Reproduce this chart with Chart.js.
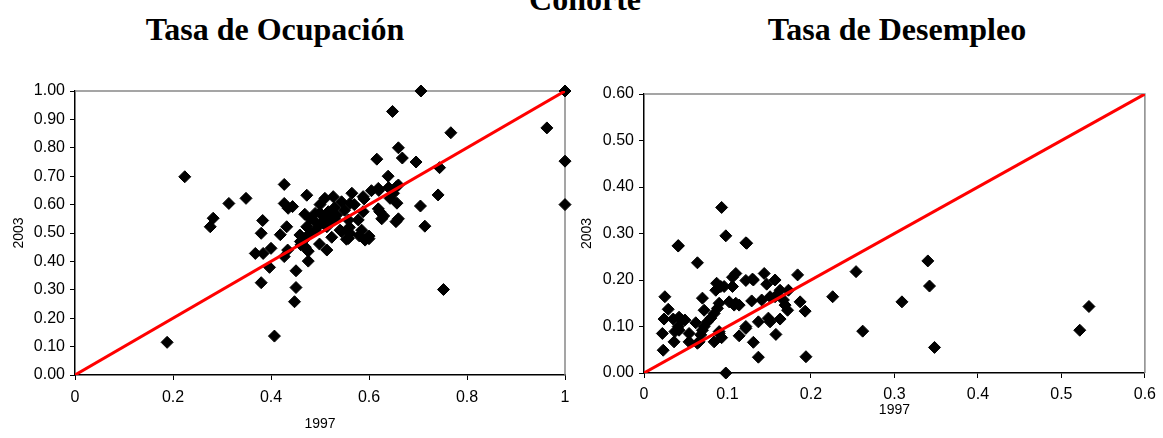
<!DOCTYPE html>
<html>
<head>
<meta charset="utf-8">
<script src="https://cdn.jsdelivr.net/npm/chart.js@4.4.1/dist/chart.umd.min.js"></script>
<style>
  body { margin: 0; background: #fff; width: 1163px; height: 438px; overflow: hidden; position: relative; }
  .titulo { position: absolute; font-family: "Liberation Serif", "Times New Roman", serif; font-weight: bold; font-size: 32px; white-space: nowrap; transform: translateX(-50%); line-height: 1; }
  canvas { position: absolute; top: 0; }
</style>
</head>
<body>
<div class="titulo" style="left:585px; top:-17px;">Cohorte</div>
<div class="titulo" style="left:275px; top:13px;">Tasa de Ocupación</div>
<div class="titulo" style="left:897px; top:13px;">Tasa de Desempleo</div>
<canvas id="chartjs-0" width="590" height="438" style="left:0; width:590px; height:438px;"></canvas>
<canvas id="chartjs-1" width="588" height="438" style="left:575px; width:588px; height:438px;"></canvas>
<script>
// Tasa de Ocupacion: 1997 (x) vs 2003 (y)
var ocup1997 = [0.188,0.224,0.276,0.282,0.314,0.349,0.368,0.384,0.380,0.397,0.400,0.380,0.383,0.407,0.419,0.427,0.434,0.432,0.427,0.427,
  0.435,0.444,0.448,0.451,0.451,0.459,0.461,0.469,0.473,0.473,0.476,0.476,0.490,0.493,0.499,0.500,0.510,0.514,0.514,0.517,
  0.524,0.524,0.527,0.534,0.541,0.544,0.544,0.554,0.558,0.558,0.561,0.561,0.565,0.578,0.585,0.588,0.588,0.592,0.600,0.605,
  0.619,0.619,0.616,0.622,0.626,0.639,0.643,0.648,0.655,0.656,0.657,0.660,0.668,0.660,0.696,0.705,0.706,0.714,0.741,0.744,
  0.752,0.767,0.963,1.000,1.000,1.000,
  0.470,0.480,0.490,0.500,0.510,0.520,0.530,0.500,0.480,0.460,0.470,0.530,0.550,0.570,0.560,0.580,0.600,0.590,0.620,0.640,0.650,0.660,0.630];
var ocup2003 = [0.115,0.698,0.522,0.552,0.604,0.622,0.428,0.428,0.325,0.379,0.446,0.499,0.544,0.137,0.494,0.417,0.440,0.522,0.671,0.604,
  0.587,0.593,0.258,0.308,0.367,0.493,0.458,0.566,0.633,0.522,0.401,0.436,0.569,0.534,0.461,0.600,0.622,0.440,0.522,0.575,
  0.485,0.569,0.628,0.563,0.510,0.610,0.505,0.478,0.546,0.481,0.499,0.604,0.640,0.546,0.510,0.628,0.575,0.475,0.489,0.649,
  0.657,0.585,0.760,0.575,0.550,0.700,0.622,0.928,0.540,0.663,0.605,0.800,0.764,0.669,0.750,0.595,1.000,0.524,0.634,0.730,
  0.301,0.853,0.870,1.000,0.753,0.600,
  0.480,0.500,0.510,0.530,0.550,0.540,0.550,0.570,0.550,0.470,0.450,0.590,0.580,0.600,0.520,0.490,0.480,0.620,0.650,0.660,0.640,0.550,0.560];

// Tasa de Desempleo: 1997 (x) vs 2003 (y)
var desem1997 = [0.025,0.029,0.024,0.022,0.023,0.036,0.041,0.035,0.042,0.037,0.042,0.049,0.054,0.054,0.062,0.064,0.066,0.064,0.070,0.072,
  0.070,0.068,0.072,0.076,0.080,0.084,0.088,0.090,0.087,0.086,0.092,0.096,0.084,0.093,0.090,0.098,0.106,0.110,0.106,0.102,
  0.108,0.114,0.114,0.122,0.123,0.122,0.130,0.129,0.137,0.131,0.137,0.144,0.147,0.141,0.151,0.149,0.151,0.157,0.157,0.158,
  0.163,0.167,0.169,0.172,0.163,0.173,0.184,0.187,0.193,0.194,0.226,0.254,0.262,0.093,0.098,0.122,0.041,0.340,0.342,0.309,
  0.348,0.522,0.533,0.045,0.041,0.122,0.131,0.110,0.090];
var desem2003 = [0.164,0.137,0.116,0.085,0.049,0.067,0.273,0.116,0.120,0.089,0.092,0.114,0.085,0.067,0.108,0.237,0.067,0.064,0.161,0.135,
  0.092,0.082,0.100,0.110,0.118,0.128,0.139,0.150,0.193,0.178,0.186,0.186,0.067,0.076,0.089,0.000,0.206,0.214,0.186,0.153,
  0.146,0.146,0.080,0.199,0.279,0.096,0.202,0.155,0.110,0.066,0.034,0.214,0.191,0.157,0.164,0.118,0.110,0.200,0.164,0.083,
  0.178,0.157,0.146,0.135,0.116,0.178,0.211,0.153,0.133,0.035,0.164,0.218,0.090,0.356,0.295,0.280,0.274,0.241,0.187,0.153,
  0.055,0.092,0.143,0.114,0.100,0.100,0.200,0.150,0.085];

var ticksOcupX = [0, 0.2, 0.4, 0.6, 0.8, 1];
var ticksDesemX = [0, 0.1, 0.2, 0.3, 0.4, 0.5, 0.6];

function toPoints(xs, ys) {
    var pts = [];
    for (let i = 0; i < xs.length; i++) {
        pts.push({x: xs[i], y: ys[i]});
    }
    return pts;
}

// grey frame on the top and right of the plot area
var marco = {
    id: 'marco',
    beforeDatasetsDraw(chart) {
        var a = chart.chartArea, ctx = chart.ctx;
        ctx.save();
        ctx.strokeStyle = '#888888';
        ctx.lineWidth = 1.5;
        ctx.beginPath();
        ctx.moveTo(a.left, a.top);
        ctx.lineTo(a.right, a.top);
        ctx.lineTo(a.right, a.bottom);
        ctx.stroke();
        ctx.restore();
    }
};

var fuente = {family: "'Liberation Sans', Arial, sans-serif", size: 16};

function makeChart(id, xs, ys, xMax, xStep, yMax, yStep, lay) {
    var ctx = document.getElementById(id);
    return new Chart(ctx, {
        type: 'scatter',
        data: {
            datasets: [{
                type: 'line',
                data: [{x: 0, y: 0}, {x: xMax, y: yMax}],
                borderColor: '#ff0000',
                borderWidth: 3,
                pointRadius: 0,
                order: 0
            }, {
                data: toPoints(xs, ys),
                pointStyle: 'rectRot',
                pointRadius: 6,
                pointBackgroundColor: '#000',
                pointBorderColor: '#000',
                pointBorderWidth: 1,
                clip: false,
                order: 1
            }]
        },
        options: {
            responsive: false,
            animation: false,
            plugins: {legend: {display: false}, tooltip: {enabled: false}},
            layout: {padding: {top: lay.top, right: lay.right, left: 0, bottom: 0}},
            scales: {
                x: {
                    type: 'linear', min: 0, max: xMax,
                    afterFit: s => { s.height = lay.xh; },
                    ticks: {stepSize: xStep, color: '#000', font: fuente, padding: lay.xpad,
                        callback: v => String(Math.round(v * 10) / 10)},
                    grid: {drawOnChartArea: false, color: '#000', tickLength: 5},
                    border: {color: '#000', width: 1.5},
                    title: {display: true, text: '1997', color: '#000', font: {family: fuente.family, size: 14},
                        padding: {top: 0, bottom: lay.xtpad}}
                },
                y: {
                    type: 'linear', min: 0, max: yMax,
                    afterFit: s => { s.width = lay.yw; },
                    ticks: {stepSize: yStep, color: '#000', font: fuente, padding: 5,
                        callback: v => v.toFixed(2)},
                    grid: {drawOnChartArea: false, color: '#000', tickLength: 5},
                    border: {color: '#000', width: 1.5},
                    title: {display: true, text: '2003', color: '#000', font: {family: fuente.family, size: 14},
                        padding: {top: lay.ytpad, bottom: 0}}
                }
            }
        },
        plugins: [marco]
    });
}

makeChart('chartjs-0', ocup1997, ocup2003, 1, 0.2, 1, 0.1,
    {top: 91, right: 25, xh: 63, yw: 75, xpad: 8, xtpad: 5, ytpad: 11});
makeChart('chartjs-1', desem1997, desem2003, 0.6, 0.1, 0.6, 0.1,
    {top: 94, right: 12, xh: 65, yw: 69, xpad: 7, xtpad: 19, ytpad: 4});
</script>
</body>
</html>
